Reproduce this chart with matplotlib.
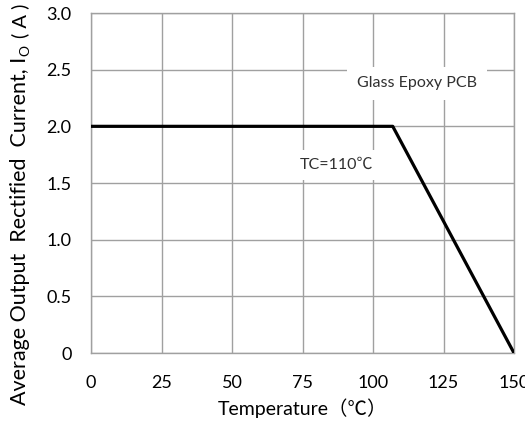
import matplotlib
matplotlib.use("Agg")
import matplotlib.pyplot as plt

temps = [0, 107, 150]
current = [2.0, 2.0, 0.0]
x_ticks = [0, 25, 50, 75, 100, 125, 150]
x_tick_labels = ["0", "25", "50", "75", "100", "125", "150"]
y_ticks = [0, 0.5, 1.0, 1.5, 2.0, 2.5, 3.0]
y_tick_labels = ["0", "0.5", "1.0", "1.5", "2.0", "2.5", "3.0"]

FAM = ["Lato", "Noto Sans CJK SC", "DejaVu Sans"]
plt.rcParams["font.family"] = FAM

fig = plt.figure(figsize=(5.25, 4.25), dpi=100)
ax = fig.add_axes([91/525, 1-353/425, (514-91)/525, (353-13)/425])
ax.plot(temps, current, color="black", lw=2.3, solid_capstyle="butt", zorder=3)
ax.set_xlim(0, 150)
ax.set_ylim(0, 3.0)
ax.set_xticks(x_ticks)
ax.set_xticklabels(x_tick_labels)
ax.set_yticks(y_ticks)
ax.set_yticklabels(y_tick_labels)
ax.tick_params(length=0, labelsize=13, colors="black")
ax.tick_params(axis="x", pad=16)
ax.tick_params(axis="y", pad=14)
ax.grid(True, color="#a0a0a0", lw=1.0)
ax.set_axisbelow(True)
for s in ax.spines.values():
    s.set_color("#a0a0a0")
    s.set_linewidth(1.0)

ax.set_xlabel("Temperature（℃）", fontsize=14, labelpad=5)

ax.text(115.6, 2.38, "Glass Epoxy PCB", ha="center", va="center", fontsize=11.5,
        color="#303030", zorder=2,
        bbox=dict(boxstyle="square,pad=0.6", fc="white", ec="none"))
ax.text(87.2, 1.66, "TC=110℃", ha="center", va="center", fontsize=11.5,
        color="#303030", zorder=2,
        bbox=dict(boxstyle="square,pad=0.5", fc="white", ec="none"))

# y label in pieces (rotated), with subscript O
fig.canvas.draw()
r = fig.canvas.get_renderer()
xc = 20
y0 = 405
t1 = fig.text(xc/525, 1-y0/425, "Average Output  Rectified  Current, I", rotation=90,
              ha="left", va="center", fontsize=15.5, rotation_mode="anchor")
bb = t1.get_window_extent(r)
t2 = fig.text((xc+5)/525, (bb.y1+1)/425, "O", rotation=90, ha="left", va="center",
              fontsize=10, rotation_mode="anchor")
bb2 = t2.get_window_extent(r)
t3 = fig.text(xc/525, (bb2.y1+7)/425, "( A )", rotation=90, ha="left", va="center",
              fontsize=14.5, rotation_mode="anchor")

fig.savefig("out.png", dpi=100)
